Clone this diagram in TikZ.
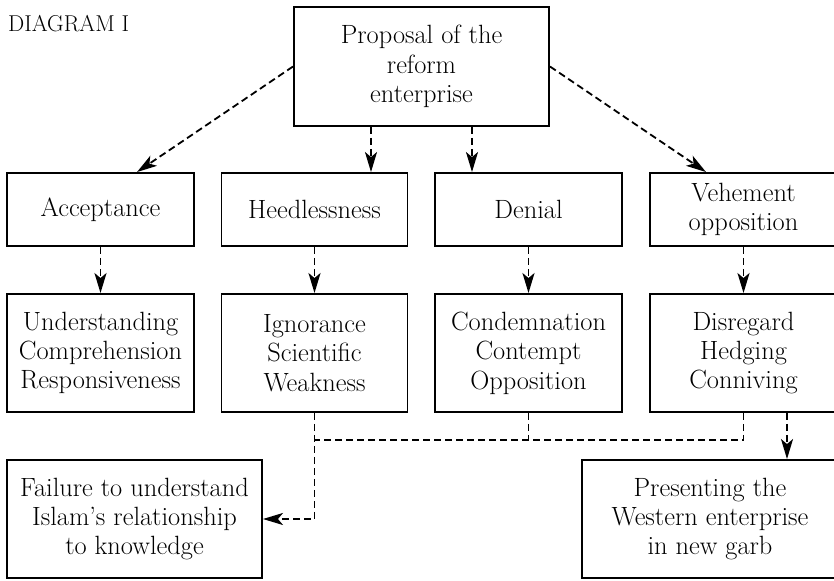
\documentclass[tikz,border=0pt]{standalone}
\usepackage{fontspec}
\usetikzlibrary{arrows.meta,calc}
\tikzset{
  box/.style={draw, line width=1.9bp, rectangle, inner sep=0pt, align=center,
    font=\fontsize{26.5}{29.5}\selectfont\addfontfeatures{FakeBold=0.5}},
  dline/.style={line width=1.8bp, dash pattern=on 7bp off 4bp},
  darrow/.style={dline, -{Stealth[length=20bp,width=12bp,inset=5bp]}},
}
\begin{document}
\begin{tikzpicture}[x=1bp,y=-1bp]
\clip (0,0) rectangle (834,581);
\fill[white] (0,0) rectangle (834,581);
% title
\node[anchor=base west, inner sep=0pt, font=\fontsize{23}{26}\selectfont\addfontfeatures{LetterSpace=7,FakeBold=0.5}] (title) at (8,32) {DIAGRAM I};
% top
\node[box, minimum width=255bp, minimum height=119bp] (top) at (421.5,66.5) {Proposal of the\\reform\\enterprise};
% row 2
\node[box, minimum width=187bp, minimum height=73bp] (acc) at (100.5,209.5) {Acceptance};
\node[box, minimum width=186bp, minimum height=73bp] (hee) at (314.5,209.5) {Heedlessness};
\node[box, minimum width=187bp, minimum height=73bp] (den) at (528.5,209.5) {Denial};
\node[box, minimum width=187bp, minimum height=73bp] (veh) at (743.5,209.5) {Vehement\\opposition};
% row 3
\node[box, minimum width=187bp, minimum height=118bp] (und) at (100.5,353) {Understanding\\Comprehension\\Responsiveness};
\node[box, minimum width=186bp, minimum height=118bp] (ign) at (314.5,353) {Ignorance\\Scientific\\Weakness};
\node[box, minimum width=187bp, minimum height=118bp] (con) at (528.5,353) {Condemnation\\Contempt\\Opposition};
\node[box, minimum width=187bp, minimum height=118bp] (dis) at (743.5,353) {Disregard\\Hedging\\Conniving};
% bottom
\node[box, minimum width=255bp, minimum height=118bp] (fail) at (134.5,519) {Failure to understand\\Islam's relationship\\to knowledge};
\node[box, minimum width=256bp, minimum height=118bp] (pres) at (710,519) {Presenting the\\Western enterprise\\in new garb};
% connectors from top
\draw[darrow] (top.west) -- ([xshift=36.5bp]acc.north);
\draw[darrow] (top.east) -- ([xshift=-37.5bp]veh.north);
\draw[darrow] ([xshift=-50.5bp]top.south) -- ([xshift=-50.5bp]top.south |- hee.north);
\draw[darrow] ([xshift=50.5bp]top.south) -- ([xshift=50.5bp]top.south |- den.north);
% row 2 to row 3
\draw[darrow] (acc.south) -- (und.north);
\draw[darrow] (hee.south) -- (ign.south |- ign.north);
\draw[darrow] (den.south) -- (con.north);
\draw[darrow] (veh.south) -- (dis.north);
% lower connectors
\coordinate (jl) at (ign.south |- {0,440});
\coordinate (jr) at (dis.south |- {0,440});
\draw[dline] (dis.south) -- (jr) -- (jl);
\draw[dline] (con.south) -- (con.south |- jl);
\draw[darrow] (ign.south) |- (fail.east);
\draw[darrow] ([xshift=43.5bp]dis.south) -- ([xshift=43.5bp]dis.south |- pres.north);
\end{tikzpicture}
\end{document}
